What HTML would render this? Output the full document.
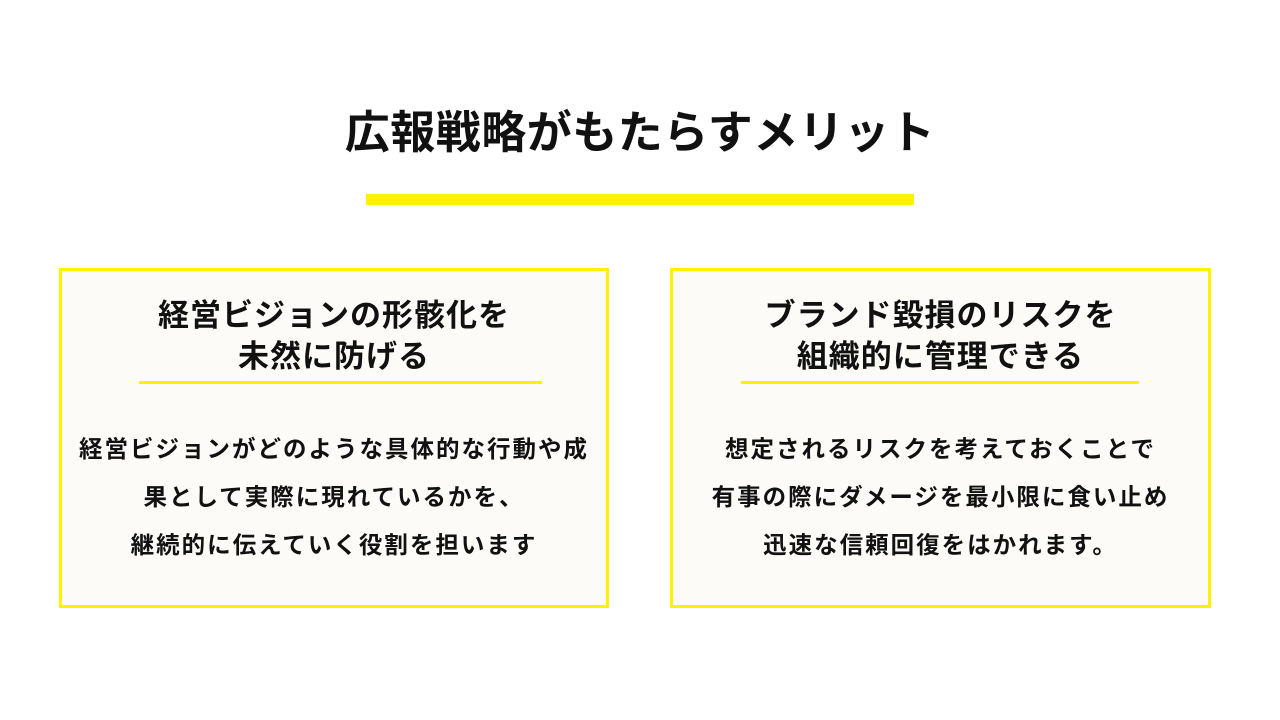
<!DOCTYPE html>
<html><head><meta charset="utf-8"><style>
body{margin:0;width:1280px;height:720px;background:#fff;position:relative;overflow:hidden;font-family:"Liberation Sans","Noto Sans CJK JP",sans-serif;font-weight:bold;color:#111}
.t{position:absolute;left:0;width:1280px;text-align:center;top:104px;font-size:45px;line-height:58px;letter-spacing:0.5px}
.bar{position:absolute;left:366px;top:194px;width:548px;height:11px;background:#fff200}
.box{position:absolute;top:268px;height:334px;border:3px solid #fff200;background:#fdfbf8}
.h{position:absolute;left:0;right:0;top:24px;text-align:center;font-size:31px;line-height:41px;letter-spacing:1px}
.u{position:absolute;top:110px;height:3px;background:#fff200}
.b{position:absolute;left:-10px;right:-10px;top:154px;text-align:center;font-size:23.5px;line-height:48px;letter-spacing:2px}
</style></head><body>
<div class="t">広報戦略がもたらすメリット</div>
<div class="bar"></div>
<div class="box" style="left:59px;width:544px">
<div class="h">経営ビジョンの形骸化を<br>未然に防げる</div>
<div class="u" style="left:77px;width:403px"></div>
<div class="b">経営ビジョンがどのような具体的な行動や成<br>果として実際に現れているかを、<br>継続的に伝えていく役割を担います</div>
</div>
<div class="box" style="left:670px;width:535px">
<div class="h">ブランド毀損のリスクを<br>組織的に管理できる</div>
<div class="u" style="left:68px;width:398px"></div>
<div class="b">想定されるリスクを考えておくことで<br>有事の際にダメージを最小限に食い止め<br>迅速な信頼回復をはかれます。</div>
</div>
</body></html>
